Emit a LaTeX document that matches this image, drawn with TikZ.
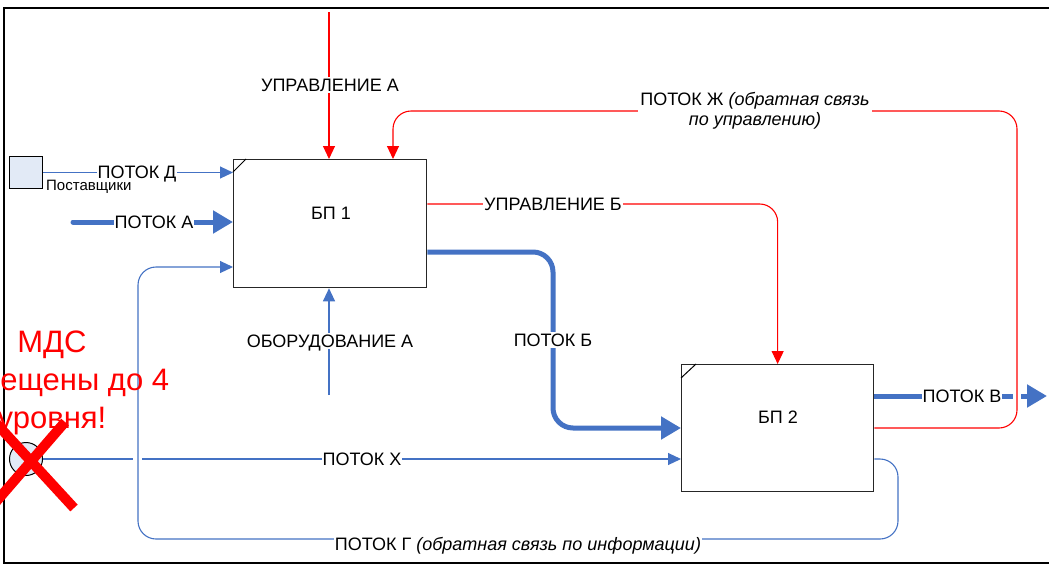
\documentclass[tikz,border=0pt]{standalone}
\usepackage{fontspec}
\setmainfont{Liberation Sans}
\usetikzlibrary{arrows.meta,calc}
\definecolor{flow}{RGB}{68,114,196}
\definecolor{ctrl}{RGB}{255,0,0}
\definecolor{boxfill}{RGB}{226,234,246}
\newcommand\lblfont{\fontsize{18}{20.5}\selectfont}

\begin{document}
\begin{tikzpicture}[x=1pt,y=-1pt,
  lbl/.style={fill=white,inner xsep=1pt,inner ysep=2pt,text height=12.8pt,text depth=0pt,font=\lblfont},
  proc/.style={draw=black!85,line width=1.3pt,fill=white,anchor=north west,inner sep=0pt},
  thinflow/.style={draw=flow,line width=1.1pt},
  thickflow/.style={draw=flow,line width=5pt},
  ctl/.style={draw=ctrl,line width=1.1pt},
  tipS/.style={-{Triangle[length=13pt,width=12pt]}},
  tipL/.style={-{Triangle[length=20pt,width=22pt]}},
]
% canvas and outer frame
\fill[white] (0,0) rectangle (1049,565);
\clip (0,0) rectangle (1049,565);
\draw[black!55,line width=2.6pt] (4,8) rectangle (1070,563);
\draw[black,line width=1.2pt] (4,8) rectangle (1070,563);

% process boxes
\node[proc,minimum width=193pt,minimum height=128pt] (b1) at (233,159) {};
\draw[line width=1pt] ($(b1.north west)+(0,13)$) -- ($(b1.north west)+(13,0)$);
\node[font=\lblfont] (b1t) at (331,213) {БП 1};
\node[proc,minimum width=192pt,minimum height=127pt] (b2) at (681,364) {};
\draw[line width=1pt] ($(b2.north west)+(0,14)$) -- ($(b2.north west)+(15,0)$);
\node[font=\lblfont] (b2t) at (778,417) {БП 2};

% external entities
\node[draw=black,line width=1pt,fill=boxfill,minimum width=33pt,minimum height=32pt,anchor=north west,inner sep=0pt] (sup) at (9,156) {};
\node[anchor=base west,inner sep=0pt,font=\fontsize{15}{18}\selectfont] (supt) at (46,190) {Поставщики};
\node[circle,draw=black,line width=1pt,fill=boxfill,minimum size=33pt,inner sep=0pt] (src) at (26,459) {};

% free ends
\coordinate (cA) at (329,12);
\coordinate (mA) at (329,395);
\coordinate (aIn) at (73,222);
\coordinate (vOut) at (1047,396);

% controls
\draw[ctl,tipS] (cA) -- (cA |- b1.north);
\draw[ctl,tipS,rounded corners=18pt] (b2.east |- 0,428) -- (1017,428) -- (1017,111) -- (393,111) -- ($(b1.north west)+(160,0)$);
\draw[ctl,tipS,rounded corners=18pt] (b1.east |- 0,204) -- (b2.north |- 0,204) -- (b2.north);

% mechanism
\draw[thinflow,tipS] (mA) -- (mA |- b1.south);

% flows
\draw[thinflow,tipS] (sup.east) -- (b1.west |- sup.east);
\draw[thickflow,line cap=round,tipL] (aIn) -- (b1.west |- aIn);
\draw[thickflow,tipL,rounded corners=20pt] (b1.east |- 0,252) -- (553,252) -- (553,428) -- (b2.west |- 0,428);
\draw[thickflow] (b2.east |- vOut) -- (1013,396);
\draw[thickflow,tipL] (1021,396) -- (vOut);
\draw[thinflow,tipS,rounded corners=18pt] (b2.east |- 0,459) -- (898,459) -- (898,539) -- (138,539) -- (138,267) -- (b1.west |- 0,267);
\draw[thinflow] (src.east) -- (133,459);
\draw[thinflow,tipS] (142,459) -- (b2.west |- src.east);

% labels
\node[lbl] (lcA) at (330,85) {УПРАВЛЕНИЕ А};
\node[fill=white,inner sep=2pt,align=center,font=\lblfont] (lfZh) at (755,111) {ПОТОК Ж \textit{(обратная связь}\\\textit{по управлению)}};
\node[lbl] (lcB) at (553,204) {УПРАВЛЕНИЕ Б};
\node[lbl] (lfD) at (137,172) {ПОТОК Д};
\node[lbl] (lfA) at (154,222) {ПОТОК А};
\node[lbl] (lmA) at (330,341) {ОБОРУДОВАНИЕ А};
\node[lbl] (lfB) at (553,340) {ПОТОК Б};
\node[lbl] (lfV) at (962,396) {ПОТОК В};
\node[lbl] (lfX) at (362,459) {ПОТОК Х};
\node[lbl] (lfG) at (518,544) {ПОТОК Г \textit{(обратная связь по информации)}};

% warning note and cross
\begin{scope}[every node/.style={text=ctrl,anchor=base,inner sep=0pt,font=\fontsize{31}{37}\selectfont}]
\node (w1) at (52,352) {МДС};
\node (w2) at (52,390) {запрещены до 4};
\node (w3) at (52,428) {уровня!};
\end{scope}
\draw[ctrl,line width=10pt] (65,422) -- (-5,503);
\draw[ctrl,line width=10pt] (-6,421) -- (74,508);
\end{tikzpicture}
\end{document}
